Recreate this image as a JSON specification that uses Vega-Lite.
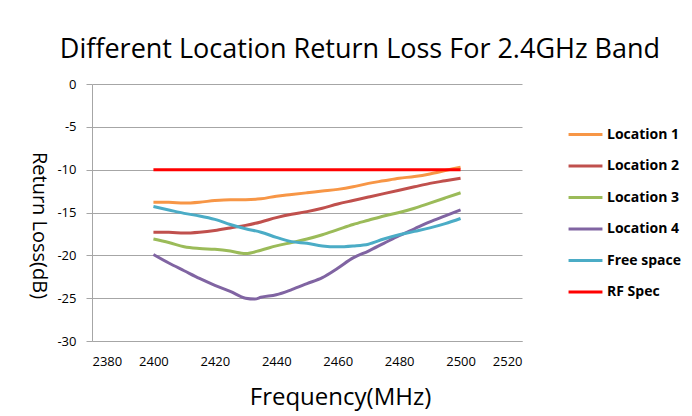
{
  "$schema": "https://vega.github.io/schema/vega-lite/v6.json",
  "width": 430,
  "height": 257,
  "autosize": {"type": "none"},
  "padding": {"left": 92, "top": 84, "right": 170, "bottom": 75},
  "background": "white",
  "title": {
    "text": "Different Location Return Loss For 2.4GHz Band",
    "font": "Open Sans",
    "fontSize": 27,
    "fontWeight": "normal",
    "color": "#000000",
    "anchor": "middle",
    "dx": 53,
    "offset": 14
  },
  "data": {
    "values": [
      {"f": 2400, "v": -13.8, "s": "Location 1"}, {"f": 2405, "v": -13.8, "s": "Location 1"}, {"f": 2410, "v": -13.9, "s": "Location 1"}, {"f": 2415, "v": -13.8, "s": "Location 1"}, {"f": 2420, "v": -13.6, "s": "Location 1"}, {"f": 2425, "v": -13.5, "s": "Location 1"}, {"f": 2430, "v": -13.5, "s": "Location 1"}, {"f": 2435, "v": -13.4, "s": "Location 1"}, {"f": 2440, "v": -13.1, "s": "Location 1"}, {"f": 2445, "v": -12.9, "s": "Location 1"}, {"f": 2450, "v": -12.7, "s": "Location 1"}, {"f": 2455, "v": -12.5, "s": "Location 1"}, {"f": 2460, "v": -12.3, "s": "Location 1"}, {"f": 2465, "v": -12.0, "s": "Location 1"}, {"f": 2470, "v": -11.6, "s": "Location 1"}, {"f": 2475, "v": -11.3, "s": "Location 1"}, {"f": 2480, "v": -11.0, "s": "Location 1"}, {"f": 2485, "v": -10.8, "s": "Location 1"}, {"f": 2490, "v": -10.5, "s": "Location 1"}, {"f": 2495, "v": -10.1, "s": "Location 1"}, {"f": 2500, "v": -9.7, "s": "Location 1"},
      {"f": 2400, "v": -17.3, "s": "Location 2"}, {"f": 2405, "v": -17.3, "s": "Location 2"}, {"f": 2410, "v": -17.4, "s": "Location 2"}, {"f": 2415, "v": -17.3, "s": "Location 2"}, {"f": 2420, "v": -17.1, "s": "Location 2"}, {"f": 2425, "v": -16.8, "s": "Location 2"}, {"f": 2430, "v": -16.5, "s": "Location 2"}, {"f": 2435, "v": -16.1, "s": "Location 2"}, {"f": 2440, "v": -15.6, "s": "Location 2"}, {"f": 2445, "v": -15.2, "s": "Location 2"}, {"f": 2450, "v": -14.9, "s": "Location 2"}, {"f": 2455, "v": -14.5, "s": "Location 2"}, {"f": 2460, "v": -14.0, "s": "Location 2"}, {"f": 2465, "v": -13.6, "s": "Location 2"}, {"f": 2470, "v": -13.2, "s": "Location 2"}, {"f": 2475, "v": -12.8, "s": "Location 2"}, {"f": 2480, "v": -12.4, "s": "Location 2"}, {"f": 2485, "v": -12.0, "s": "Location 2"}, {"f": 2490, "v": -11.6, "s": "Location 2"}, {"f": 2495, "v": -11.3, "s": "Location 2"}, {"f": 2500, "v": -11.0, "s": "Location 2"},
      {"f": 2400, "v": -18.1, "s": "Location 3"}, {"f": 2405, "v": -18.5, "s": "Location 3"}, {"f": 2410, "v": -19.0, "s": "Location 3"}, {"f": 2415, "v": -19.2, "s": "Location 3"}, {"f": 2420, "v": -19.3, "s": "Location 3"}, {"f": 2425, "v": -19.5, "s": "Location 3"}, {"f": 2430, "v": -19.8, "s": "Location 3"}, {"f": 2435, "v": -19.4, "s": "Location 3"}, {"f": 2440, "v": -18.9, "s": "Location 3"}, {"f": 2445, "v": -18.5, "s": "Location 3"}, {"f": 2450, "v": -18.1, "s": "Location 3"}, {"f": 2455, "v": -17.6, "s": "Location 3"}, {"f": 2460, "v": -17.0, "s": "Location 3"}, {"f": 2465, "v": -16.4, "s": "Location 3"}, {"f": 2470, "v": -15.9, "s": "Location 3"}, {"f": 2475, "v": -15.4, "s": "Location 3"}, {"f": 2480, "v": -15.0, "s": "Location 3"}, {"f": 2485, "v": -14.5, "s": "Location 3"}, {"f": 2490, "v": -13.9, "s": "Location 3"}, {"f": 2495, "v": -13.3, "s": "Location 3"}, {"f": 2500, "v": -12.7, "s": "Location 3"},
      {"f": 2400, "v": -19.9, "s": "Location 4"}, {"f": 2405, "v": -20.9, "s": "Location 4"}, {"f": 2410, "v": -21.8, "s": "Location 4"}, {"f": 2415, "v": -22.7, "s": "Location 4"}, {"f": 2420, "v": -23.5, "s": "Location 4"}, {"f": 2425, "v": -24.2, "s": "Location 4"}, {"f": 2430, "v": -25.0, "s": "Location 4"}, {"f": 2433, "v": -25.1, "s": "Location 4"}, {"f": 2435, "v": -24.9, "s": "Location 4"}, {"f": 2440, "v": -24.6, "s": "Location 4"}, {"f": 2445, "v": -24.0, "s": "Location 4"}, {"f": 2450, "v": -23.3, "s": "Location 4"}, {"f": 2455, "v": -22.6, "s": "Location 4"}, {"f": 2460, "v": -21.5, "s": "Location 4"}, {"f": 2465, "v": -20.3, "s": "Location 4"}, {"f": 2470, "v": -19.5, "s": "Location 4"}, {"f": 2475, "v": -18.6, "s": "Location 4"}, {"f": 2480, "v": -17.7, "s": "Location 4"}, {"f": 2485, "v": -16.9, "s": "Location 4"}, {"f": 2490, "v": -16.1, "s": "Location 4"}, {"f": 2495, "v": -15.4, "s": "Location 4"}, {"f": 2500, "v": -14.7, "s": "Location 4"},
      {"f": 2400, "v": -14.3, "s": "Free space"}, {"f": 2405, "v": -14.7, "s": "Free space"}, {"f": 2410, "v": -15.1, "s": "Free space"}, {"f": 2415, "v": -15.4, "s": "Free space"}, {"f": 2420, "v": -15.8, "s": "Free space"}, {"f": 2425, "v": -16.4, "s": "Free space"}, {"f": 2430, "v": -16.9, "s": "Free space"}, {"f": 2435, "v": -17.3, "s": "Free space"}, {"f": 2440, "v": -17.9, "s": "Free space"}, {"f": 2445, "v": -18.4, "s": "Free space"}, {"f": 2450, "v": -18.6, "s": "Free space"}, {"f": 2455, "v": -18.9, "s": "Free space"}, {"f": 2460, "v": -19.0, "s": "Free space"}, {"f": 2465, "v": -18.9, "s": "Free space"}, {"f": 2470, "v": -18.7, "s": "Free space"}, {"f": 2475, "v": -18.1, "s": "Free space"}, {"f": 2480, "v": -17.6, "s": "Free space"}, {"f": 2485, "v": -17.2, "s": "Free space"}, {"f": 2490, "v": -16.8, "s": "Free space"}, {"f": 2495, "v": -16.3, "s": "Free space"}, {"f": 2500, "v": -15.7, "s": "Free space"},
      {"f": 2400, "v": -10, "s": "RF Spec"}, {"f": 2500, "v": -10, "s": "RF Spec"}
    ]
  },
  "mark": {"type": "line", "strokeWidth": 3, "interpolate": "monotone"},
  "encoding": {
    "x": {
      "field": "f", "type": "quantitative",
      "scale": {"domain": [2380, 2520], "nice": false},
      "axis": {
        "values": [2380, 2400, 2420, 2440, 2460, 2480, 2500, 2520],
        "labelExpr": "'' + datum.value",
        "title": "Frequency(MHz)",
        "titleFont": "Open Sans", "titleFontSize": 24, "titleFontWeight": "normal", "titleColor": "#000000",
        "titleX": 248, "titlePadding": 17,
        "labelFont": "Open Sans", "labelFontSize": 13, "labelColor": "#000000", "labelPadding": 14,
        "grid": false, "ticks": false,
        "domainColor": "#A6A6A6", "domainWidth": 1
      }
    },
    "y": {
      "field": "v", "type": "quantitative",
      "scale": {"domain": [-30, 0], "nice": false},
      "axis": {
        "values": [-30, -25, -20, -15, -10, -5, 0],
        "labelExpr": "'' + datum.value",
        "title": "Return Loss(dB)",
        "titleFont": "Open Sans", "titleFontSize": 20, "titleFontWeight": "normal", "titleColor": "#000000",
        "titleAngle": 90, "titleX": -54, "titleY": 141, "titleAlign": "center", "titleBaseline": "middle",
        "labelFont": "Open Sans", "labelFontSize": 13, "labelColor": "#000000", "labelPadding": 10,
        "grid": true, "gridColor": "#A6A6A6", "gridWidth": 1,
        "ticks": true, "tickSize": 6, "tickColor": "#A6A6A6",
        "domainColor": "#A6A6A6", "domainWidth": 1
      }
    },
    "color": {
      "field": "s", "type": "nominal",
      "scale": {
        "domain": ["Location 1", "Location 2", "Location 3", "Location 4", "Free space", "RF Spec"],
        "range": ["#F79646", "#C0504D", "#9BBB59", "#8064A2", "#4BACC6", "#FF0000"]
      },
      "legend": {
        "title": null,
        "orient": "none", "legendX": 475, "legendY": 32,
        "symbolType": "stroke", "symbolSize": 1150, "symbolStrokeWidth": 3,
        "labelFont": "Open Sans", "labelFontSize": 14, "labelFontWeight": "bold", "labelColor": "#000000",
        "labelOffset": 3, "rowPadding": 5.5, "symbolOffset": 0
      }
    }
  },
  "config": {"view": {"stroke": null}}
}
